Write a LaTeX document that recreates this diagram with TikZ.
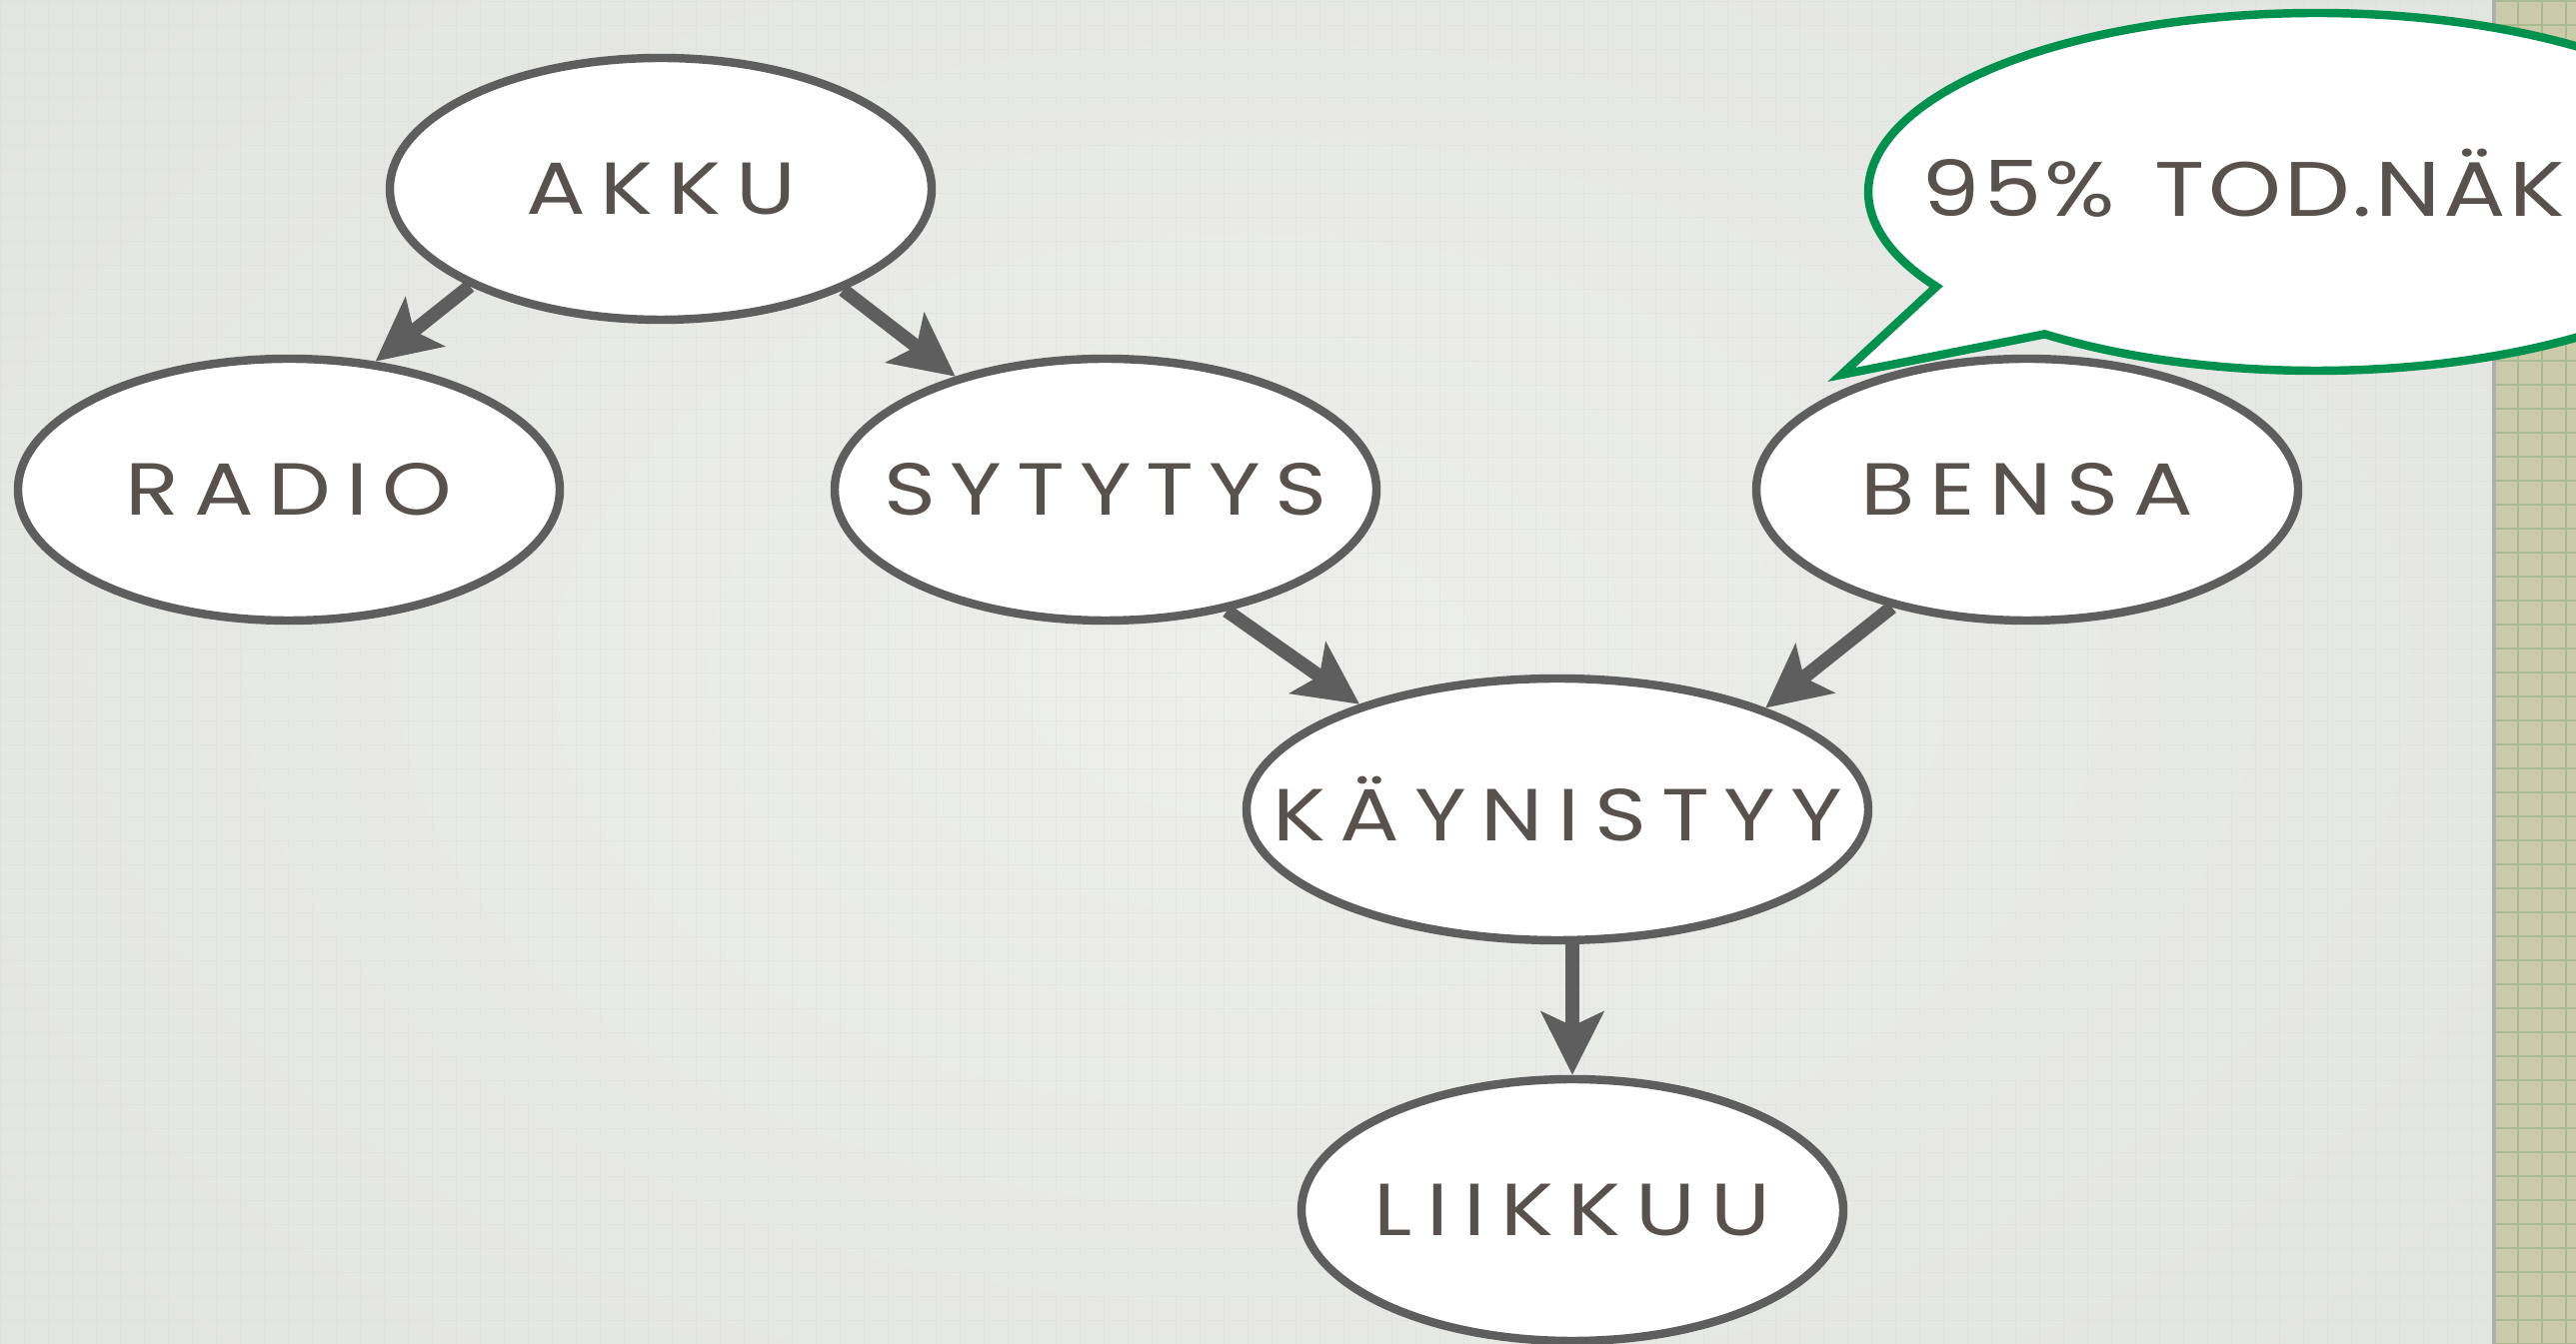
\documentclass[tikz,border=0pt]{standalone}
\usepackage{fontspec}
\usepackage{mathtools}
\usetikzlibrary{arrows.meta, shapes.geometric, calc}
\newfontfamily\handfont{Poppins}[LetterSpace=20, FakeStretch=1.2]
\newfontfamily\bubblefont{Poppins}[LetterSpace=4, FakeStretch=1.2]
\definecolor{bg}{HTML}{E3E5E1}
\definecolor{bgl}{HTML}{EEEFEC}
\definecolor{grd}{HTML}{D8DBD6}
\definecolor{s1}{HTML}{CBCAA9}
\definecolor{s2}{HTML}{ABB991}
\definecolor{g}{HTML}{5E5E5E}
\definecolor{ink}{HTML}{58514D}
\definecolor{gr}{HTML}{00914F}

\begin{document}
\begin{tikzpicture}[
		state/.style={ellipse, draw=g, line width=2.4pt, fill=white, minimum width=5.42cm, minimum height=2.62cm, inner sep=0pt, text=ink, font=\handfont\fontsize{21}{25}\selectfont},
		link/.style={draw=g, line width=3.9pt, -{Stealth[length=6.3mm, width=6.2mm, inset=1.4mm]}}
	]
				\useasboundingbox (0,0) rectangle (25.77,13.45);
				\clip (0,0) rectangle (25.77,13.45);
				
				% paper
				\shade[inner color=bgl, outer color=bg] (-3,-3) rectangle (28,16.45);
				\draw[grd, very thin, step=0.24, opacity=0.35] (0,0) grid (24.95,13.45);
				\fill[s1] (24.95,0) rectangle (25.77,13.45);
				\draw[s2, line width=0.8pt, step=0.24, shift={(24.95,0)}] (0,0) grid (0.82,13.45);
				\draw[g!50, line width=1.2pt] (24.95,0) -- (24.95,13.45);
				
				\node[state] (akku) at (6.61, 11.56) {\clap{AKKU}};
				\node[state] (radio) at (2.89, 8.55) {\clap{RADIO}};
				\node[state] (sytytys) at (11.06, 8.55) {\clap{SYTYTYS}};
				\node[state] (bensa) at (20.28, 8.55) {\clap{BENSA}};
				\node[state, minimum width=6.22cm] (kay) at (15.58, 5.35) {\clap{KÄYNISTYY}};
				\node[state] (liikkuu) at (15.73, 1.34) {\clap{LIIKKUU}};
				
				\draw[link] (akku.207) -- (radio.56);
				\draw[link] (akku.331) -- (sytytys.143);
				\draw[link] (sytytys.315) -- (kay.152);
				\draw[link] (bensa.221) -- (kay.26);
				\draw[link] (kay.south -| liikkuu.north) -- (liikkuu.north);
				
				% speech bubble
				\coordinate (C) at (23.17, 11.53);
				\coordinate (T) at (18.42, 9.70);
				\filldraw[draw=gr, fill=white, line width=2.4pt] (C) ++(232.7:4.48 and 1.79) arc[start angle=232.7, end angle=572, x radius=4.48, y radius=1.79] -- (T) -- cycle;
				\node[anchor=west, inner sep=0pt, text=ink, font=\bubblefont\fontsize{22}{26}\selectfont] (todnak) at (19.22, 11.62) {95\%\hspace{1.2mm} TOD.NÄK};
			\end{tikzpicture}
\end{document}
